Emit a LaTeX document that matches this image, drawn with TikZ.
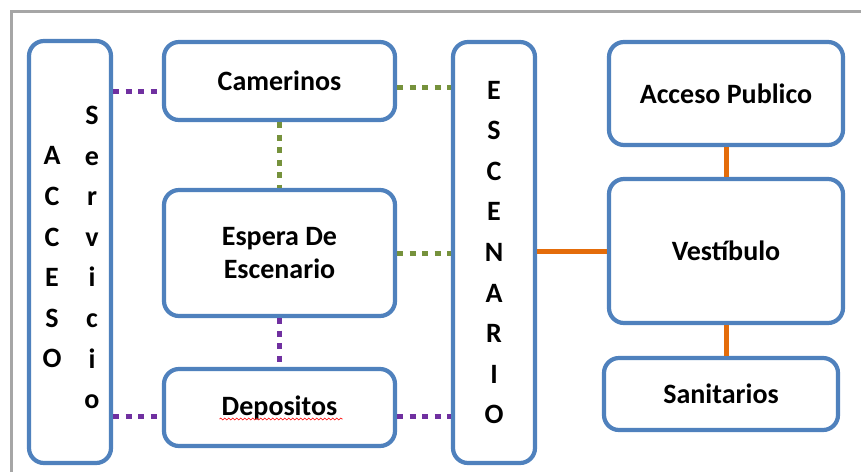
\documentclass[tikz,border=0pt]{standalone}
\usepackage{fontspec}
\setmainfont{Carlito}
\usepackage{xcolor}
\usepackage{tikz}
\usetikzlibrary{positioning,decorations.pathmorphing}
\definecolor{boxblue}{RGB}{79,129,189}
\definecolor{linkpurple}{RGB}{112,48,160}
\definecolor{linkgreen}{RGB}{118,146,60}
\definecolor{linkorange}{RGB}{228,108,10}
\definecolor{framegray}{RGB}{166,166,166}
\tikzset{
  room/.style={
    draw=boxblue,
    line width=4.2pt,
    rounded corners=15pt,
    fill=white,
    align=center,
    inner sep=0pt,
    font=\fontsize{28}{33}\selectfont\bfseries
  },
  tall text/.style={
    align=center,
    inner sep=0pt,
    font=\fontsize{28}{40.6}\selectfont\bfseries
  },
  link purple/.style={
    draw=linkpurple,
    line width=5pt,
    dash pattern=on 6pt off 6.5pt
  },
  link green/.style={
    draw=linkgreen,
    line width=5pt,
    dash pattern=on 6pt off 6.5pt
  },
  link orange/.style={
    draw=linkorange,
    line width=5pt
  },
  squiggle/.style={
    draw=red,
    line width=0.6pt,
    decorate,
    decoration={snake, amplitude=0.9pt, segment length=4pt}
  }
}
\begin{document}
\begin{tikzpicture}[x=1pt,y=-1pt]
  \useasboundingbox (0,0) rectangle (861,472);

  % frame
  \draw[framegray, line width=3.5pt] (11.5,472) -- (11.5,11.5) -- (861,11.5);

  % Acceso servicio
  \node[room, minimum width=82pt, minimum height=422pt] (acc) at (70,252) {};
  \node[tall text] (accl) at (52,257.5) {A\\C\\C\\E\\S\\O};
  \node[tall text] (accr) at (92,257.5) {S\\e\\r\\v\\i\\c\\i\\o};

  % left column
  \node[room, minimum width=231pt, minimum height=78pt] (cam) at (279.5,81) {Camerinos};
  \node[room, minimum width=231pt, minimum height=126pt] (esp) at (279.5,253) {Espera De\\Escenario};
  \node[room, minimum width=231pt, minimum height=77pt] (dep) at (279.5,407.5) {Depositos};
  \draw[squiggle] ([xshift=-60pt,yshift=-11.5pt]dep.center) -- ++(123,0);

  % Escenario
  \node[room, tall text, minimum width=82pt, minimum height=421pt] (esc) at (494,252.5)
    {E\\S\\C\\E\\N\\A\\R\\I\\O};

  % right column
  \node[room, minimum width=234pt, minimum height=103pt] (pub) at (726,93.5) {Acceso Publico};
  \node[room, minimum width=234pt, minimum height=144pt] (ves) at (726,251) {Vestíbulo};
  \node[room, minimum width=234pt, minimum height=72pt] (san) at (721,394) {Sanitarios};

  % link ends
  \coordinate (camw) at ([yshift=-10pt]cam.west);
  \coordinate (came) at ([yshift=-6pt]cam.east);
  \coordinate (depw) at ([yshift=-8.5pt]dep.west);
  \coordinate (depe) at ([yshift=-8.5pt]dep.east);

  % links
  \draw[link purple] (acc.east |- camw) -- (camw);
  \draw[link purple] (acc.east |- depw) -- (depw);
  \draw[link green] (cam.south) -- (esp.north);
  \draw[link purple] (esp.south) -- (dep.north);
  \draw[link green] (came) -- (esc.west |- came);
  \draw[link green] (esp.east) -- (esc.west |- esp.east);
  \draw[link purple] (depe) -- (esc.west |- depe);
  \draw[link orange] (esc.east |- ves.west) -- (ves.west);
  \draw[link orange] (pub.south) -- (ves.north);
  \draw[link orange] (ves.south) -- (ves.south |- san.north);

\end{tikzpicture}
\end{document}
